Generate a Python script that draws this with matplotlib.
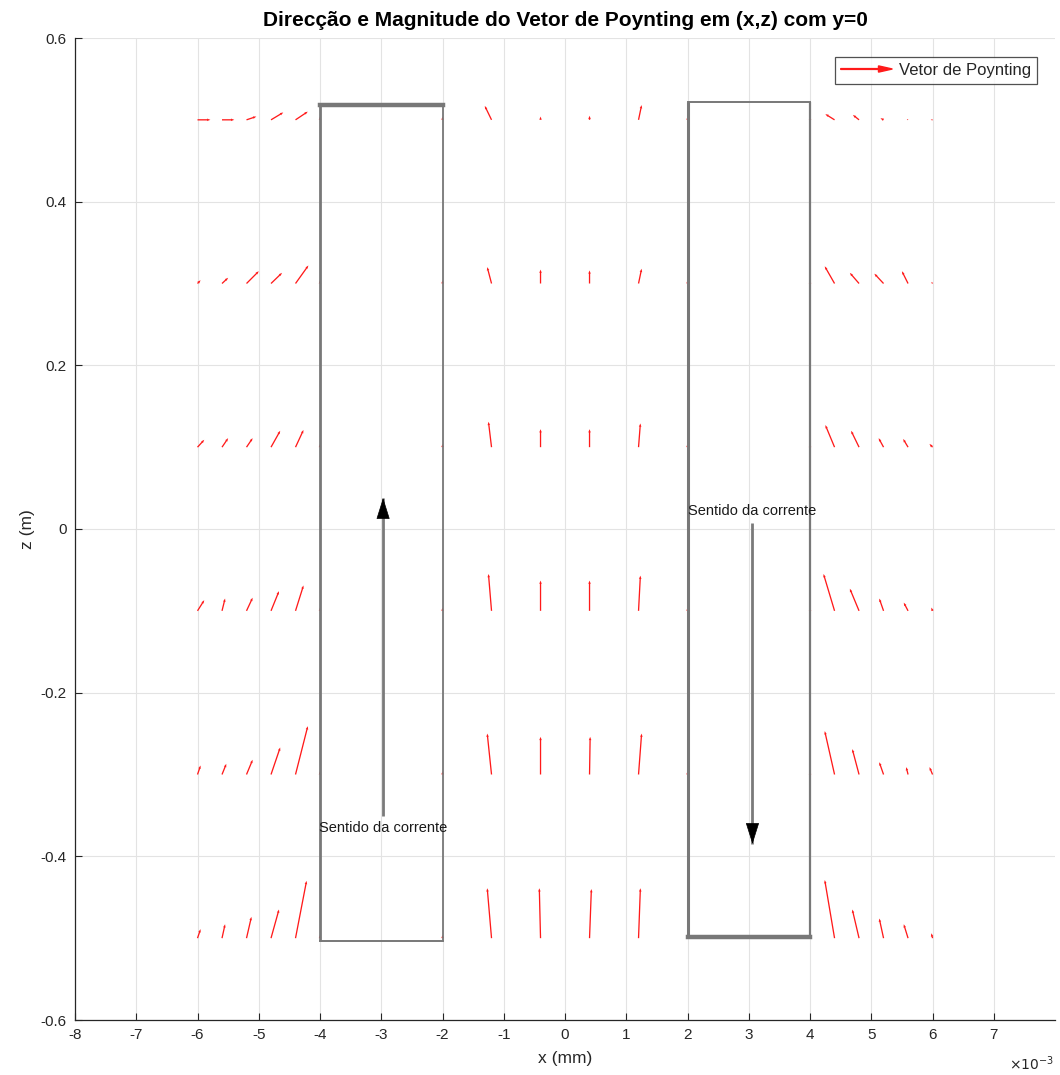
import matplotlib
matplotlib.use("Agg")
import matplotlib.pyplot as plt
import matplotlib.patches as mpatches
from matplotlib.legend_handler import HandlerPatch
import numpy as np

plt.rcParams['font.family'] = ['Liberation Sans', 'DejaVu Sans']

# ---- data -------------------------------------------------------------
rows_z = [0.5, 0.3, 0.1, -0.1, -0.3, -0.5]          # z of each row (m)

left_x = [-6.0, -5.6, -5.2, -4.8, -4.4]             # x in mm
mid_x = [-1.2, -0.4, 0.4, 1.2]
right_x = [4.4, 4.8, 5.2, 5.6, 6.0]
edge_x = [-4.0, -2.0, 2.0, 4.0]

# x-components in mm, z-components in m (one row per z level)
left_u = [[0.21, 0.20, 0.16, 0.20, 0.20],
          [0.05, 0.10, 0.20, 0.18, 0.21],
          [0.11, 0.10, 0.10, 0.15, 0.13],
          [0.11, 0.05, 0.10, 0.13, 0.13],
          [0.05, 0.07, 0.10, 0.15, 0.20],
          [0.05, 0.05, 0.08, 0.13, 0.18]]
left_v = [[0.000, 0.000, 0.004, 0.009, 0.010],
          [0.004, 0.007, 0.015, 0.013, 0.022],
          [0.009, 0.011, 0.011, 0.020, 0.021],
          [0.013, 0.015, 0.016, 0.024, 0.031],
          [0.011, 0.013, 0.018, 0.033, 0.059],
          [0.011, 0.017, 0.026, 0.035, 0.070]]

mid_u = [[-0.11, 0.00, 0.00, 0.05],
         [-0.07, 0.00, 0.00, 0.05],
         [-0.05, 0.00, 0.00, 0.03],
         [-0.05, 0.00, 0.00, 0.03],
         [-0.07, 0.00, 0.01, 0.05],
         [-0.07, -0.02, 0.03, 0.03]]
mid_v = [[0.017, 0.004, 0.005, 0.018],
         [0.020, 0.017, 0.016, 0.018],
         [0.031, 0.022, 0.022, 0.029],
         [0.045, 0.037, 0.037, 0.043],
         [0.050, 0.046, 0.046, 0.050],
         [0.061, 0.061, 0.060, 0.061]]

right_u = [[-0.15, -0.10, -0.05, -0.02, -0.03],
           [-0.16, -0.15, -0.15, -0.10, -0.02],
           [-0.15, -0.13, -0.08, -0.08, -0.05],
           [-0.18, -0.15, -0.07, -0.07, -0.02],
           [-0.16, -0.11, -0.07, -0.03, -0.05],
           [-0.16, -0.11, -0.07, -0.07, -0.02]]
right_v = [[0.007, 0.006, 0.002, 0.001, 0.000],
           [0.021, 0.013, 0.012, 0.015, 0.002],
           [0.027, 0.020, 0.011, 0.010, 0.004],
           [0.045, 0.027, 0.015, 0.010, 0.004],
           [0.053, 0.031, 0.015, 0.009, 0.009],
           [0.071, 0.035, 0.024, 0.017, 0.006]]

edge_u = [0.0, 0.0, 0.0, 0.0]
edge_v = [0.004, 0.004, 0.004, 0.004]

# conductors: x span (mm), z span (m)
cond_left_x = [-4.0, -2.0]
cond_left_z = [-0.503, 0.518]
cond_right_x = [2.0, 4.0]
cond_right_z = [-0.499, 0.522]

# current direction arrows: x (mm), tail z, head z
cur_left = (-2.97, -0.351, 0.038)
cur_right = (3.06, 0.007, -0.385)

xtick_vals = list(range(-8, 8))
xtick_labels = [str(v) for v in xtick_vals]
ytick_vals = [-0.6, -0.4, -0.2, 0.0, 0.2, 0.4, 0.6]
ytick_labels = ['-0.6', '-0.4', '-0.2', '0', '0.2', '0.4', '0.6']

# ---- figure -----------------------------------------------------------
W, H = 1060, 1075
fig = plt.figure(figsize=(W / 100, H / 100), dpi=100)
ax = fig.add_axes([75 / W, 1 - 1020 / H, 980 / W, 982 / H])

axcol = '#262626'
ax.set_xlim(-8e-3, 7.999e-3)
ax.set_ylim(-0.6, 0.6)
ax.set_xticks([v * 1e-3 for v in xtick_vals])
ax.set_xticklabels(xtick_labels)
ax.set_yticks(ytick_vals)
ax.set_yticklabels(ytick_labels)
ax.tick_params(direction='in', length=5, width=0.8, colors=axcol,
               labelsize=11, pad=6)
ax.grid(True, color='#e3e3e3', linewidth=0.8)
ax.set_axisbelow(True)
for s in ('top', 'right'):
    ax.spines[s].set_visible(False)
for s in ('left', 'bottom'):
    ax.spines[s].set_color(axcol)
    ax.spines[s].set_linewidth(0.9)

qkw = dict(angles='xy', scale_units='xy', scale=1, color='#ff1a1a',
           units='dots', width=1.3, headwidth=2.0, headlength=2.6,
           headaxislength=2.4, minlength=0.5, zorder=3)


def field(xs, us, vs):
    X, Z = np.meshgrid(np.array(xs) * 1e-3, rows_z)
    ax.quiver(X, Z, np.array(us) * 1e-3, np.array(vs), **qkw)


field(left_x, left_u, left_v)
field(mid_x, mid_u, mid_v)
field(right_x, right_u, right_v)
field(edge_x, [edge_u] * len(rows_z), [edge_v] * len(rows_z))

# conductors
gray = '#787878'


def conductor(xs, zs, lw_left, lw_right, lw_bottom, lw_top):
    x0, x1 = xs[0] * 1e-3, xs[1] * 1e-3
    z0, z1 = zs
    ax.plot([x0, x0], [z0, z1], color=gray, lw=lw_left, zorder=4,
            solid_capstyle='butt')
    ax.plot([x1, x1], [z0, z1], color=gray, lw=lw_right, zorder=4,
            solid_capstyle='butt')
    ax.plot([x0, x1], [z0, z0], color=gray, lw=lw_bottom, zorder=4,
            solid_capstyle='projecting')
    ax.plot([x0, x1], [z1, z1], color=gray, lw=lw_top, zorder=4,
            solid_capstyle='projecting')


conductor(cond_left_x, cond_left_z, 2.0, 1.3, 1.4, 3.2)
conductor(cond_right_x, cond_right_z, 2.2, 1.6, 3.2, 1.4)


def current_arrow(spec, text, text_below):
    x, z_tail, z_head = spec
    xd = x * 1e-3
    ax.plot([xd, xd], [z_tail, z_head], color='#7a7a7a', lw=2.0, zorder=5,
            solid_capstyle='butt')
    sgn = 1 if z_head > z_tail else -1
    ax.annotate('', xy=(xd, z_head), xytext=(xd, z_head - sgn * 0.015),
                arrowprops=dict(arrowstyle='-|>,head_length=14,head_width=4.4',
                                mutation_scale=1, color='black', lw=0.5,
                                shrinkA=0, shrinkB=0), zorder=6)
    if text_below:
        ax.text(xd, z_tail - 0.006, text, ha='center', va='top',
                fontsize=10.5, color='#1a1a1a', zorder=6)
    else:
        ax.text(xd, z_tail + 0.006, text, ha='center', va='bottom',
                fontsize=10.5, color='#1a1a1a', zorder=6)


current_arrow(cur_left, 'Sentido da corrente', True)
current_arrow(cur_right, 'Sentido da corrente', False)

# labels
ax.set_title('Direcção e Magnitude do Vetor de Poynting em (x,z) com y=0',
             fontsize=15, fontweight='bold', color='black', pad=9)
ax.set_xlabel('x (mm)', fontsize=12.5, color=axcol, labelpad=6)
ax.set_ylabel('z (m)', fontsize=12.5, color=axcol, labelpad=4)
fig.text(1031 / W, 1 - 1064 / H, r'$\times10^{-3}$', fontsize=10,
         color=axcol, ha='center', va='center')


# legend with an arrow glyph
def make_arrow(legend, orig_handle, xdescent, ydescent, width, height,
               fontsize):
    return mpatches.FancyArrow(0, 0.5 * height, width, 0,
                               length_includes_head=True, width=0.6,
                               head_width=4.5, head_length=10,
                               color='#ff1a1a')


proxy = mpatches.Patch(color='#ff1a1a', label='Vetor de Poynting')
leg = ax.legend(handles=[proxy], loc='upper right',
                bbox_to_anchor=((1037 - 75) / 980, 1 - (57 - 38) / 982),
                borderaxespad=0, fancybox=False, fontsize=12,
                handlelength=3.1, handletextpad=0.4, borderpad=0.35,
                handler_map={mpatches.Patch: HandlerPatch(patch_func=make_arrow)})
leg.get_frame().set_edgecolor(axcol)
leg.get_frame().set_linewidth(0.9)
for t in leg.get_texts():
    t.set_color(axcol)

fig.savefig('out.png', dpi=100, facecolor='white')
